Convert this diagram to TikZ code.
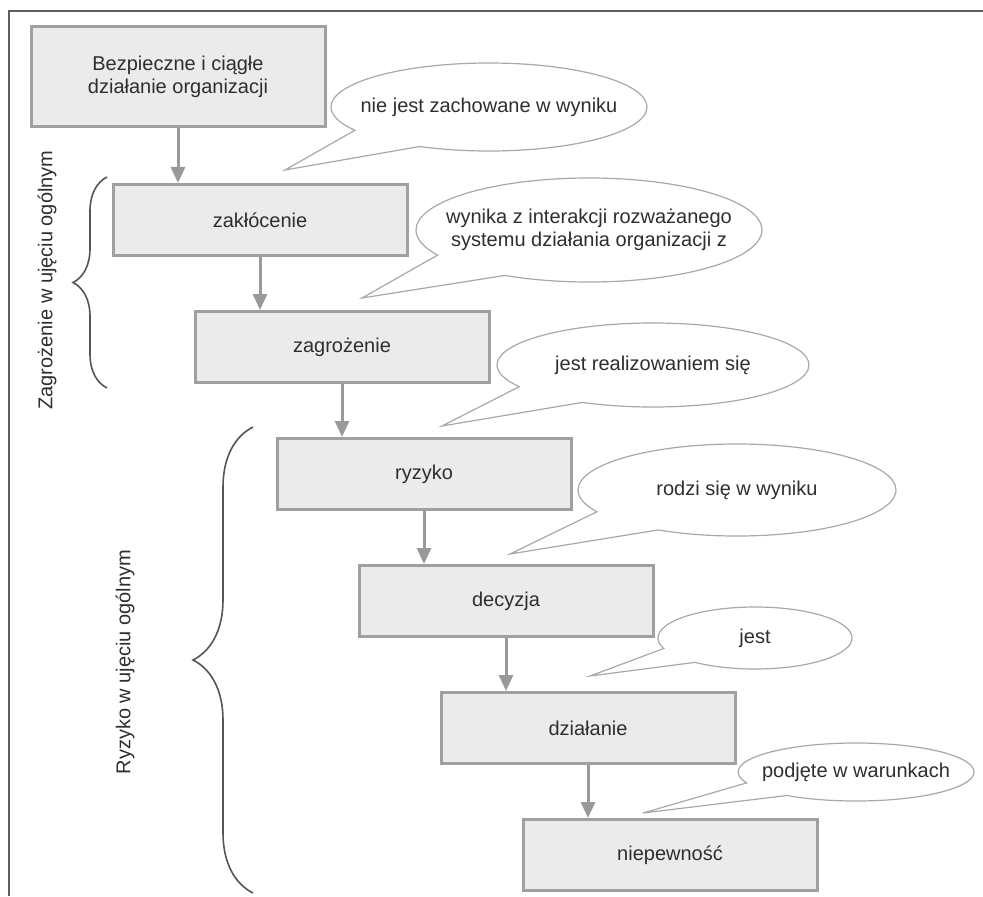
\documentclass[tikz,border=0pt]{standalone}
\usepackage{fontspec}
\setmainfont{Liberation Sans}
\usepackage{tikz}
\usetikzlibrary{arrows.meta, positioning, shapes.callouts, decorations.pathreplacing}
\definecolor{boxfill}{HTML}{EBEBEB}
\definecolor{boxline}{HTML}{A0A0A0}
\definecolor{arrgray}{HTML}{999999}
\definecolor{bubline}{HTML}{A8A8A8}
\definecolor{txtgray}{HTML}{2E2E2E}
\definecolor{framegray}{HTML}{5E5E5E}
\definecolor{bracegray}{HTML}{555555}

\begin{document}
\begin{tikzpicture}[
  x=0.5pt, y=0.5pt,
  font=\fontsize{10}{11.4}\selectfont, text=txtgray,
  node distance=26.5pt,
  stepbox/.style={rectangle, draw=boxline, fill=boxfill, line width=1.5pt,
                  minimum width=147pt, minimum height=35.5pt, align=center},
  bubble/.style={ellipse callout, draw=bubline, fill=white, line width=0.6pt,
                 callout pointer arc=32},
  arr/.style={-{Triangle[length=8pt, width=7pt]}, line width=1.5pt, arrgray},
  curly/.style={decorate, decoration={brace, amplitude=#1}, draw=bracegray, line width=0.8pt},
  every label/.style={align=center},
]
  \useasboundingbox (0,0) rectangle (983,896);
  % frame
  \draw[framegray, line width=1pt] (983,885) -- (9,885) -- (9,0);

  % chain of steps
  \node[stepbox, minimum height=50pt] (bez) at (178,819.5) {Bezpieczne i ciągłe\\działanie organizacji};
  \node[stepbox, below=27.5pt of bez, xshift=41pt] (zak) {zakłócenie};
  \node[stepbox, below=of zak, xshift=41pt] (zag) {zagrożenie};
  \node[stepbox, below=of zag, xshift=41pt] (ryz) {ryzyko};
  \node[stepbox, below=of ryz, xshift=41pt] (dec) {decyzja};
  \node[stepbox, below=of dec, xshift=41pt] (dzi) {działanie};
  \node[stepbox, below=of dzi, xshift=41pt] (nie) {niepewność};

  % arrows
  \draw[arr] (bez.south) -- (bez.south |- zak.north);
  \draw[arr] (zak.south) -- (zak.south |- zag.north);
  \draw[arr] (zag.south) -- (zag.south |- ryz.north);
  \draw[arr] (ryz.south) -- (ryz.south |- dec.north);
  \draw[arr] (dec.south) -- (dec.south |- dzi.north);
  \draw[arr] (dzi.south) -- (dzi.south |- nie.north);

  % callouts
  \coordinate (t1) at (285,726);
  \coordinate (t2) at (362,598);
  \coordinate (t3) at (442,470);
  \coordinate (t4) at (510,342);
  \coordinate (t5) at (590,220);
  \coordinate (t6) at (643,83);
  \node[bubble, minimum width=158pt, minimum height=44pt, callout absolute pointer={(t1)},
        label=center:{nie jest zachowane w wyniku}] (cb1) at (489,789) {};
  \node[bubble, minimum width=173pt, minimum height=52pt, callout absolute pointer={(t2)},
        label=center:{wynika z interakcji rozważanego\\systemu działania organizacji z}] (cb2) at (589,666) {};
  \node[bubble, minimum width=156pt, minimum height=42pt, callout absolute pointer={(t3)},
        label=center:{jest realizowaniem się}] (cb3) at (653,531) {};
  \node[bubble, minimum width=159pt, minimum height=46pt, callout absolute pointer={(t4)},
        label=center:{rodzi się w wyniku}] (cb4) at (737,406) {};
  \node[bubble, minimum width=97pt, minimum height=31pt, callout absolute pointer={(t5)},
        label=center:{jest}] (cb5) at (755,258) {};
  \node[bubble, minimum width=118pt, minimum height=29pt, callout absolute pointer={(t6)},
        label=center:{podjęte w warunkach}] (cb6) at (856,124) {};

  % braces and their labels
  \coordinate (zb1) at (107,508);
  \coordinate (zb2) at (107,719);
  \draw[curly=17pt] (zb1) -- (zb2);
  \coordinate (rb1) at (253,3);
  \coordinate (rb2) at (253,469);
  \draw[curly=30pt] (rb1) -- (rb2);
  \node[rotate=90] (zlab) at (47,616) {Zagrożenie w ujęciu ogólnym};
  \node[rotate=90] (rlab) at (125,234) {Ryzyko w ujęciu ogólnym};
\end{tikzpicture}
\end{document}
